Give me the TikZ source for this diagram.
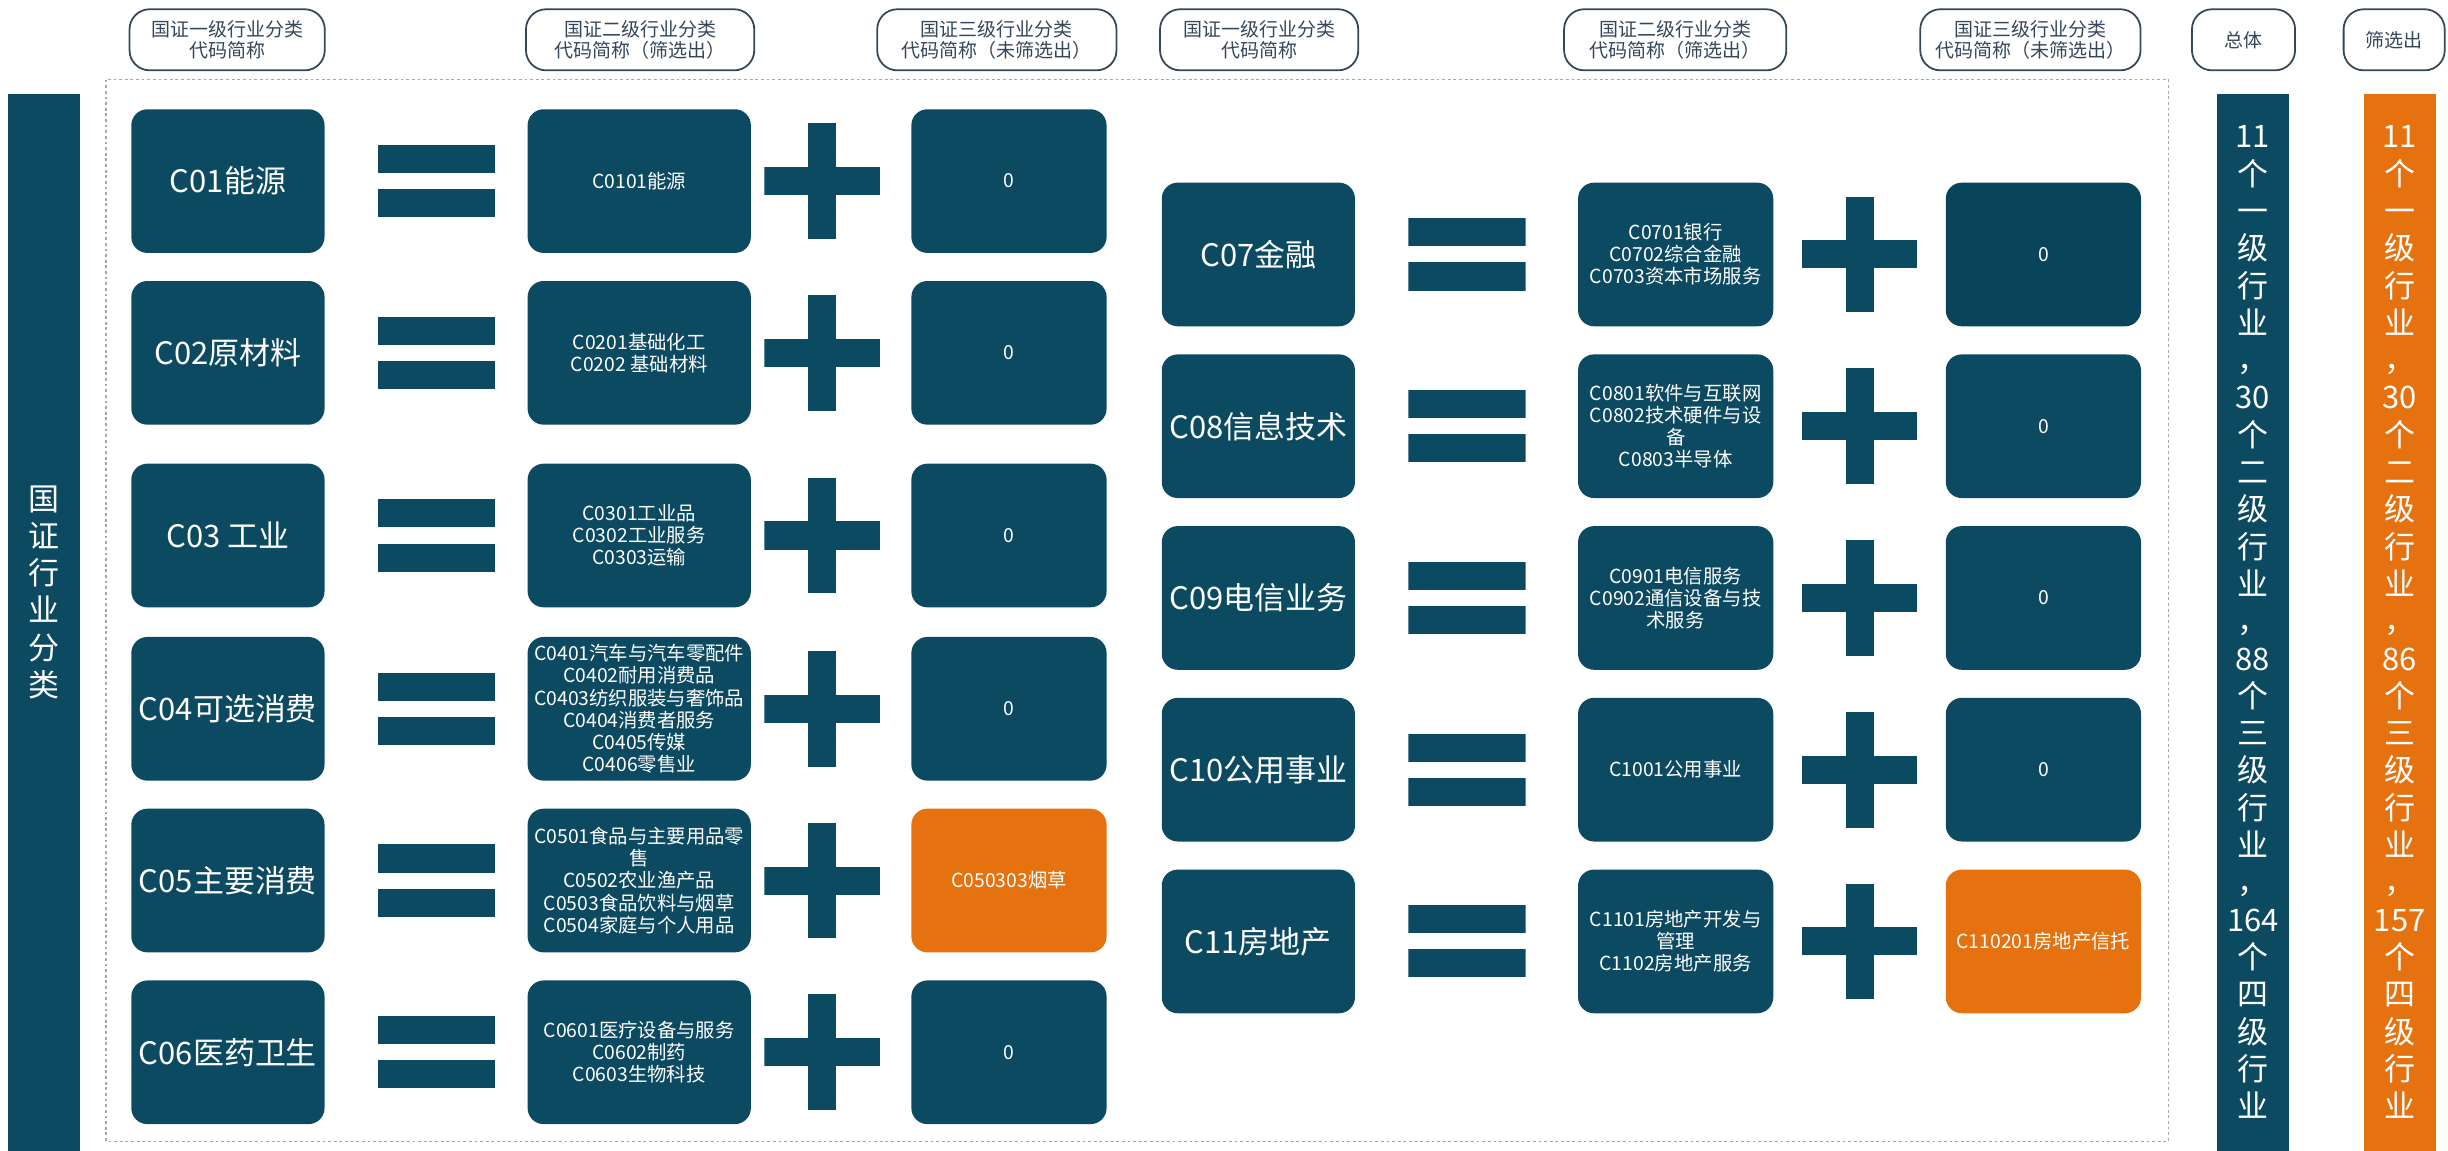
\documentclass[tikz,border=0pt]{standalone}
\usepackage{fontspec}
\setmainfont{Noto Sans CJK SC}
\usetikzlibrary{positioning}
\definecolor{zblue}{HTML}{0C4A62}
\definecolor{zdeep}{HTML}{08445A}
\definecolor{zorange}{HTML}{E5720F}
\definecolor{zline}{HTML}{34465A}

\begin{document}
\begin{tikzpicture}[x=0.0156cm,y=-0.0156cm]
  \tikzstyle{lone}=[rectangle,rounded corners=0.16cm,fill=zblue,text=white,
              minimum width=1.93cm,minimum height=1.435cm,inner sep=1pt,
              font=\fontsize{8.8}{10.6}\selectfont]
  \tikzstyle{ltwo}=[rectangle,rounded corners=0.16cm,fill=zblue,text=white,
              minimum width=1.95cm,minimum height=1.435cm,inner sep=1pt,
              align=center,font=\fontsize{5.5}{6.3}\selectfont]
  \tikzstyle{ltwowide}=[ltwo,minimum width=2.23cm]
  \tikzstyle{lthree}=[ltwo]
  \tikzstyle{picked}=[fill=zorange]
  \tikzstyle{head}=[rectangle,rounded corners=0.2cm,draw=zline,line width=0.5pt,
              text=zline,minimum height=0.61cm,inner sep=1pt,align=center,
              font=\fontsize{5.4}{6}\selectfont]
  \tikzstyle{bar}=[rectangle,fill=zblue,text=white,minimum width=0.72cm,
              minimum height=10.56cm,inner sep=0pt,align=center,
              font=\fontsize{8.8}{10.6}\selectfont]
  \tikzstyle{eqsign}=[rectangle,minimum width=1.17cm,minimum height=0.72cm,inner sep=0pt,
              path picture={
                \fill[zblue] (path picture bounding box.north west) rectangle ([yshift=-0.28cm]path picture bounding box.north east);
                \fill[zblue] ([yshift=0.28cm]path picture bounding box.south west) rectangle (path picture bounding box.south east);}]
  \tikzstyle{plussign}=[rectangle,minimum size=1.155cm,inner sep=0pt,
              path picture={
                \fill[zblue] ([xshift=-0.14cm]path picture bounding box.north) rectangle ([xshift=0.14cm]path picture bounding box.south);
                \fill[zblue] ([yshift=0.14cm]path picture bounding box.west) rectangle ([yshift=-0.14cm]path picture bounding box.east);}]

    \useasboundingbox (0,0) rectangle (1568,737);

    % headers
    \node [head,minimum width=1.95cm] (h1) at (145.5,25.5) {国证一级行业分类\\代码简称};
    \node [head,minimum width=2.28cm] (h2) at (410,25.5) {国证二级行业分类\\代码简称（筛选出）};
    \node [head,minimum width=2.39cm] (h3) at (638.5,25.5) {国证三级行业分类\\代码简称（未筛选出）};
    \node [head,minimum width=1.98cm] (h4) at (806.5,25.5) {国证一级行业分类\\代码简称};
    \node [head,minimum width=2.22cm] (h5) at (1073,25.5) {国证二级行业分类\\代码简称（筛选出）};
    \node [head,minimum width=2.2cm] (h6) at (1300.5,25.5) {国证三级行业分类\\代码简称（未筛选出）};
    \node [head,minimum width=1.03cm] (h7) at (1437,25.5) {总体};
    \node [head,minimum width=1.01cm] (h8) at (1533.5,25.5) {筛选出};

    % side bars
    \node [bar] (cat) at (28,398.5) {国\\证\\行\\业\\分\\类\\[0.25cm]};
    \node [bar] (tot) at (1443,398.5) {11\\个\\一\\级\\行\\业\\，\\30\\个\\二\\级\\行\\业\\，\\88\\个\\三\\级\\行\\业\\，\\164\\个\\四\\级\\行\\业};
    \node [bar,fill=zorange] (sel) at (1537,398.5) {11\\个\\一\\级\\行\\业\\，\\30\\个\\二\\级\\行\\业\\，\\86\\个\\三\\级\\行\\业\\，\\157\\个\\四\\级\\行\\业};

    \draw [gray!70,line width=0.4pt,dash pattern=on 0.8pt off 0.8pt] (68,51) rectangle (1389,731);

    % left half
    \node [lone] (c01) at (146,116) {C01能源};
    \node [eqsign] (e01) [right=0.52cm of c01] {};
    \node [ltwowide] (s01) [right=0.31cm of e01] {C0101能源};
    \node [plussign] (p01) [right=0.12cm of s01] {};
    \node [lthree] (t01) [right=0.3cm of p01] {0};

    \node [lone] (c02) at (146,226) {C02原材料};
    \node [eqsign] (e02) [right=0.52cm of c02] {};
    \node [ltwowide] (s02) [right=0.31cm of e02] {C0201基础化工\\C0202 基础材料};
    \node [plussign] (p02) [right=0.12cm of s02] {};
    \node [lthree] (t02) [right=0.3cm of p02] {0};

    \node [lone] (c03) at (146,343) {C03 工业};
    \node [eqsign] (e03) [right=0.52cm of c03] {};
    \node [ltwowide] (s03) [right=0.31cm of e03] {C0301工业品\\C0302工业服务\\C0303运输};
    \node [plussign] (p03) [right=0.12cm of s03] {};
    \node [lthree] (t03) [right=0.3cm of p03] {0};

    \node [lone] (c04) at (146,454) {C04可选消费};
    \node [eqsign] (e04) [right=0.52cm of c04] {};
    \node [ltwowide] (s04) [right=0.31cm of e04] {C0401汽车与汽车零配件\\C0402耐用消费品\\C0403纺织服装与奢饰品\\C0404消费者服务\\C0405传媒\\C0406零售业};
    \node [plussign] (p04) [right=0.12cm of s04] {};
    \node [lthree] (t04) [right=0.3cm of p04] {0};

    \node [lone] (c05) at (146,564) {C05主要消费};
    \node [eqsign] (e05) [right=0.52cm of c05] {};
    \node [ltwowide] (s05) [right=0.31cm of e05] {C0501食品与主要用品零\\售\\C0502农业渔产品\\C0503食品饮料与烟草\\C0504家庭与个人用品};
    \node [plussign] (p05) [right=0.12cm of s05] {};
    \node [lthree,picked] (t05) [right=0.3cm of p05] {C050303烟草};

    \node [lone] (c06) at (146,674) {C06医药卫生};
    \node [eqsign] (e06) [right=0.52cm of c06] {};
    \node [ltwowide] (s06) [right=0.31cm of e06] {C0601医疗设备与服务\\C0602制药\\C0603生物科技};
    \node [plussign] (p06) [right=0.12cm of s06] {};
    \node [lthree] (t06) [right=0.3cm of p06] {0};

    % right half
    \node [lone] (c07) at (806,163) {C07金融};
    \node [eqsign] (e07) [right=0.52cm of c07] {};
    \node [ltwo] (s07) [right=0.51cm of e07] {C0701银行\\C0702综合金融\\C0703资本市场服务};
    \node [plussign] (p07) [right=0.27cm of s07] {};
    \node [lthree,fill=zdeep] (t07) [right=0.27cm of p07] {0};

    \node [lone] (c08) at (806,273) {C08信息技术};
    \node [eqsign] (e08) [right=0.52cm of c08] {};
    \node [ltwo] (s08) [right=0.51cm of e08] {C0801软件与互联网\\C0802技术硬件与设\\备\\C0803半导体};
    \node [plussign] (p08) [right=0.27cm of s08] {};
    \node [lthree] (t08) [right=0.27cm of p08] {0};

    \node [lone] (c09) at (806,383) {C09电信业务};
    \node [eqsign] (e09) [right=0.52cm of c09] {};
    \node [ltwo] (s09) [right=0.51cm of e09] {C0901电信服务\\C0902通信设备与技\\术服务};
    \node [plussign] (p09) [right=0.27cm of s09] {};
    \node [lthree] (t09) [right=0.27cm of p09] {0};

    \node [lone] (c10) at (806,493) {C10公用事业};
    \node [eqsign] (e10) [right=0.52cm of c10] {};
    \node [ltwo] (s10) [right=0.51cm of e10] {C1001公用事业};
    \node [plussign] (p10) [right=0.27cm of s10] {};
    \node [lthree] (t10) [right=0.27cm of p10] {0};

    \node [lone] (c11) at (806,603) {C11房地产};
    \node [eqsign] (e11) [right=0.52cm of c11] {};
    \node [ltwo] (s11) [right=0.51cm of e11] {C1101房地产开发与\\管理\\C1102房地产服务};
    \node [plussign] (p11) [right=0.27cm of s11] {};
    \node [lthree,picked] (t11) [right=0.27cm of p11] {C110201房地产信托};
\end{tikzpicture}
\end{document}
